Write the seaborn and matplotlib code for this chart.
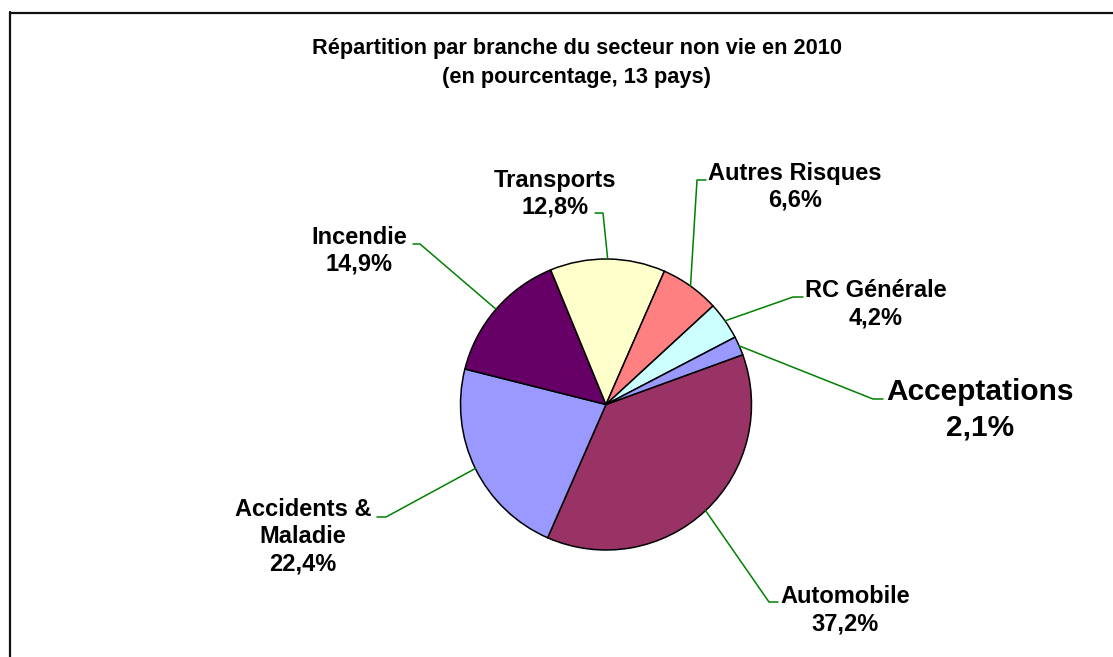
import matplotlib
matplotlib.use("Agg")
import matplotlib.pyplot as plt
import seaborn as sns
import numpy as np
from matplotlib.lines import Line2D

# ---- data ----
categories = ["Automobile", "Accidents &\nMaladie", "Incendie", "Transports",
              "Autres Risques", "RC Générale", "Acceptations"]
values = [37.2, 22.4, 14.9, 12.8, 6.6, 4.2, 2.1]
title_lines = ["Répartition par branche du secteur non vie en 2010",
               "(en pourcentage, 13 pays)"]
colors = ["#993366", "#9999FF", "#660066", "#FFFFCC", "#FF8080", "#CCFFFF", "#9999FF"]

# ---- layout (pixel coords of a 1113x657 canvas) ----
W, H = 1113, 657
CX, CY, R = 606, 404.5, 145.5
# label centre x, first baseline y, line step, font size, elbow (x,y), end x
layout = [
    (845, 603, 27, 17, (769, 602), 778),
    (303, 516, 27, 17, (386, 517), 377),
    (359, 244, 27, 17, (420, 244), 413),
    (555, 187, 26.5, 17, (603, 213), 595),
    (795, 180, 27, 17, (697, 180), 706),
    (876, 297, 27, 17, (793, 297), 803),
    (980, 400, 35, 21.5, (873, 399), 883),
]

sns.set_theme(style="white")
plt.rcParams["font.family"] = ["Liberation Sans", "DejaVu Sans"]
plt.rcParams["text.color"] = "black"

fig = plt.figure(figsize=(W / 100, H / 100), dpi=100)
ax = fig.add_axes([0, 0, 1, 1])

def Y(py):
    return H - py

wedges, _ = ax.pie(values, colors=colors, startangle=20, counterclock=False,
                   center=(CX, Y(CY)), radius=R,
                   wedgeprops=dict(edgecolor="black", linewidth=1.1))
ax.set_xlim(0, W)
ax.set_ylim(0, H)
ax.set_aspect("equal")
ax.axis("off")

for w, name, v, (lx, by, step, fs, elbow, endx) in zip(wedges, categories, values, layout):
    mid = np.deg2rad((w.theta1 + w.theta2) / 2)
    ax_x = CX + R * np.cos(mid)
    ax_y = Y(CY) + R * np.sin(mid)
    ax.add_line(Line2D([ax_x, elbow[0], endx], [ax_y, Y(elbow[1]), Y(elbow[1])],
                       color="#008000", lw=1.1))
    lines = name.split("\n") + [f"{v:.1f}".replace(".", ",") + "%"]
    for i, t in enumerate(lines):
        ax.text(lx, Y(by + i * step), t, ha="center", va="baseline",
                fontsize=fs, fontweight="bold", color="black")

ax.text(577, Y(54), title_lines[0], ha="center", va="baseline",
        fontsize=15.7, fontweight="bold", color="black")
ax.text(577, Y(83), title_lines[1], ha="center", va="baseline",
        fontsize=15.7, fontweight="bold", color="black")

# chart frame
fig.add_artist(Line2D([9.5 / W, 9.5 / W], [0, 1 - 12 / H], transform=fig.transFigure,
                      color="#111111", lw=1.6))
fig.add_artist(Line2D([9.5 / W, 1], [1 - 12.5 / H, 1 - 12.5 / H], transform=fig.transFigure,
                      color="#111111", lw=1.6))

fig.savefig("out.png", dpi=100, facecolor="white")
